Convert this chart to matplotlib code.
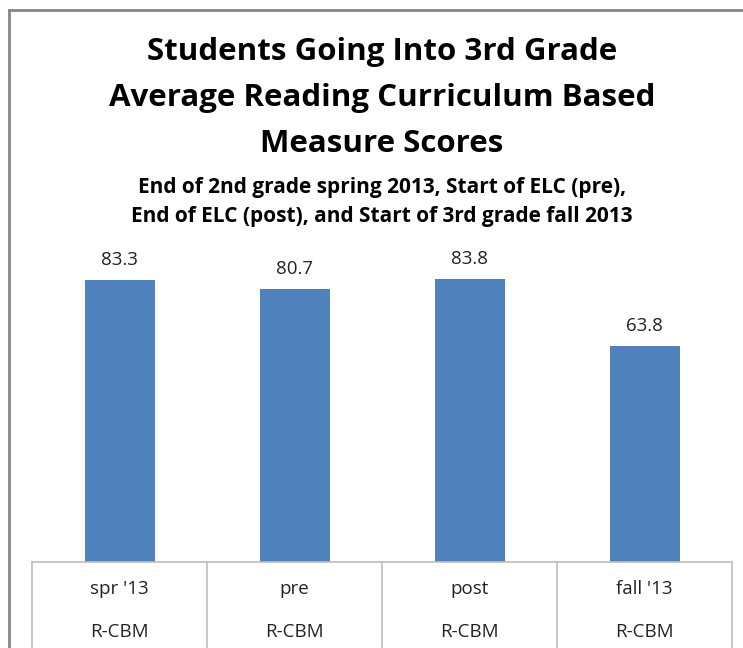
import matplotlib
matplotlib.use("Agg")
import matplotlib.pyplot as plt
from matplotlib.lines import Line2D

# chart data
categories = ["spr '13", "pre", "post", "fall '13"]
measure = ["R-CBM", "R-CBM", "R-CBM", "R-CBM"]
scores = [83.3, 80.7, 83.8, 63.8]

title = "Students Going Into 3rd Grade\nAverage Reading Curriculum Based\nMeasure Scores"
subtitle = "End of 2nd grade spring 2013, Start of ELC (pre),\nEnd of ELC (post), and Start of 3rd grade fall 2013"

W, H = 743, 648
plt.rcParams["font.family"] = ["Open Sans", "DejaVu Sans"]

fig = plt.figure(figsize=(W / 100, H / 100), dpi=100)


def fx(px):
    return px / W


def fy(py):
    return 1 - py / H


# plot area in pixel terms
left, right, top, bottom = 32, 732, 224, 562
ax = fig.add_axes([fx(left), fy(bottom), fx(right) - fx(left), fy(top) - fy(bottom)])

x = range(len(categories))
bars = ax.bar(x, scores, width=0.4, color="#4F81BD")
for b, v in zip(bars, scores):
    ax.annotate(f"{v:.1f}", (b.get_x() + b.get_width() / 2, v), xytext=(0, 8),
                textcoords="offset points", ha="center", va="bottom",
                fontsize=13.5, color="#222222")

ax.set_xlim(-0.5, len(categories) - 0.5)
ax.set_ylim(0, 100)
ax.set_xticks([])
ax.set_yticks([])
for s in ["left", "right", "top", "bottom"]:
    ax.spines[s].set_visible(False)

# table-like category axis
grid_c = "#BEBEBE"
fig.add_artist(Line2D([fx(left), fx(right)], [fy(bottom), fy(bottom)], color=grid_c, lw=1.2))
step = (right - left) / len(categories)
for i in range(len(categories) + 1):
    xp = left + i * step
    fig.add_artist(Line2D([fx(xp), fx(xp)], [fy(bottom), 0], color=grid_c, lw=1.2))
for i, (c, m) in enumerate(zip(categories, measure)):
    xc = fx(left + (i + 0.5) * step)
    fig.text(xc, fy(589), c, ha="center", va="center", fontsize=13.5, color="#222222")
    fig.text(xc, fy(632), m, ha="center", va="center", fontsize=13.5, color="#222222")

# chart border
border_c = "#868686"
fig.add_artist(Line2D([fx(9), 1], [fy(10), fy(10)], color=border_c, lw=2))
fig.add_artist(Line2D([fx(9), fx(9)], [fy(10), 0], color=border_c, lw=2))

fig.text(fx(382), fy(98), title, ha="center", va="center", fontsize=22.5,
         fontweight="bold", linespacing=1.68, color="black")
fig.text(fx(382), fy(202), subtitle, ha="center", va="center", fontsize=15,
         fontweight="bold", linespacing=1.48, color="black")

fig.savefig("out.png", dpi=100, facecolor="white")
